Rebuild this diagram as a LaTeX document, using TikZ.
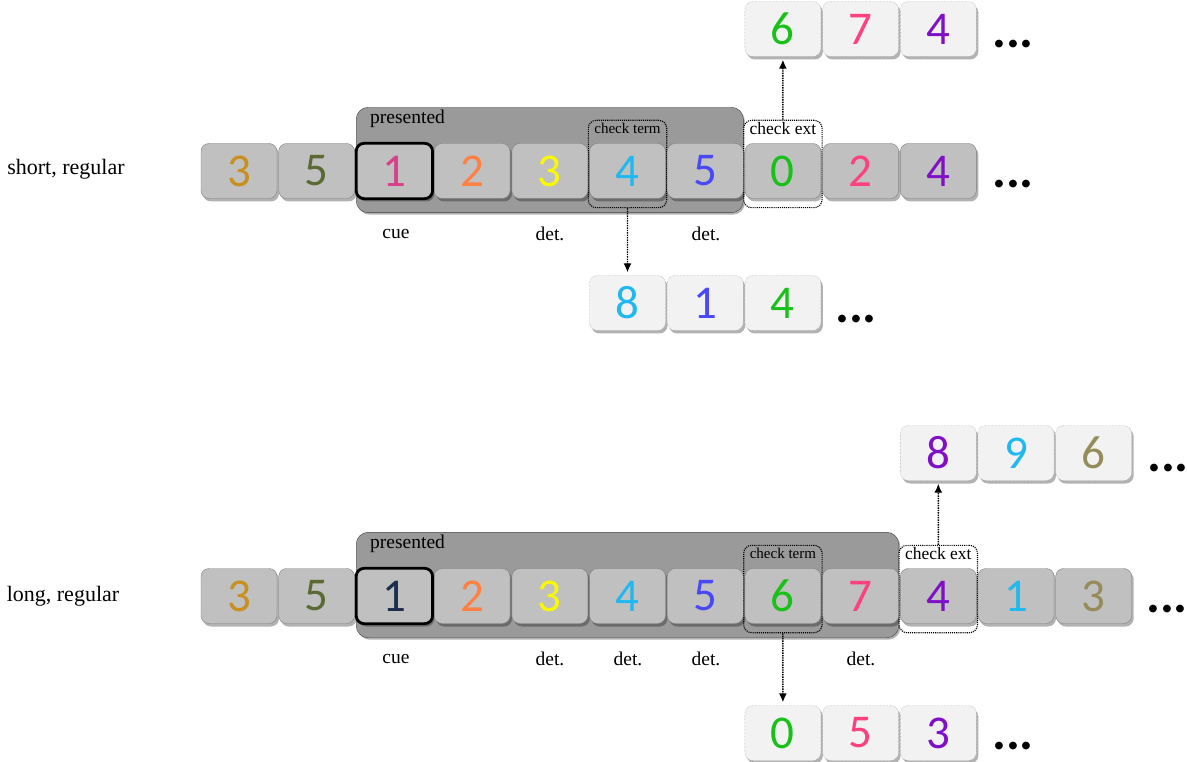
\documentclass[tikz,border=0pt]{standalone}
\usepackage{fontspec}
\setmainfont{Liberation Serif}
\newfontfamily\digitfont{Carlito}
\usetikzlibrary{shadows,fit,arrows.meta,backgrounds}
\definecolor{cGold}{HTML}{C89020}
\definecolor{cOlive}{HTML}{5A6A32}
\definecolor{cMag}{HTML}{D8408C}
\definecolor{cNavy}{HTML}{1C2E4E}
\definecolor{cOrange}{HTML}{FF8040}
\definecolor{cYellow}{HTML}{F8F800}
\definecolor{cCyan}{HTML}{20B8F0}
\definecolor{cBlue}{HTML}{4848F8}
\definecolor{cGreen}{HTML}{18C018}
\definecolor{cPink}{HTML}{FF4080}
\definecolor{cPurple}{HTML}{8010C8}
\definecolor{cKhaki}{HTML}{968C5A}
\definecolor{cellfill}{HTML}{C0C0C0}
\definecolor{extrafill}{HTML}{F2F2F2}
\definecolor{presfill}{HTML}{9A9A9A}
\tikzset{
  cell/.style={draw=black!50, fill=cellfill, rounded corners=8pt, minimum width=76pt,
    minimum height=55pt, inner sep=0pt, font=\digitfont\fontsize{47}{47}\selectfont,
    drop shadow={shadow xshift=2pt, shadow yshift=-3pt, opacity=0.3, fill=black}},
  extra/.style={cell, fill=extrafill, draw=black!45, densely dotted},
  cuebox/.style={draw=black, line width=2.8pt},
  present/.style={draw=black!75, fill=presfill, rounded corners=12pt, inner sep=0pt,
    drop shadow={shadow xshift=1.5pt, shadow yshift=-2pt, opacity=0.3, fill=black}},
  chk/.style={draw=black, densely dotted, line width=1.1pt, rounded corners=8pt, inner sep=0pt},
  chklabel/.style={font=\fontsize{15}{15}\selectfont, anchor=north, inner sep=0pt},
  extlabel/.style={font=\fontsize{17.5}{17.5}\selectfont, anchor=north, inner sep=0pt},
  plabel/.style={font=\fontsize{19.5}{19.5}\selectfont, anchor=north west, inner sep=0pt},
  lab/.style={font=\fontsize{19.5}{19.5}\selectfont, inner sep=0pt},
  rowlab/.style={font=\fontsize{22}{22}\selectfont, inner sep=0pt},
  dots/.style={font=\digitfont\bfseries\fontsize{52}{52}\selectfont, inner sep=0pt},
  link/.style={densely dotted, line width=1.4pt, -{Latex[length=9pt,width=8pt]}}
}
\begin{document}
\begin{tikzpicture}[x=1pt,y=-1pt]
\useasboundingbox (0,0) rectangle (1187,762);

% ---------------- short, regular ----------------
\node[rowlab] (sl) at (66,169) {short, regular};
\foreach \d/\c [count=\i] in {3/cGold,5/cOlive,1/cMag,2/cOrange,3/cYellow,4/cCyan,5/cBlue,0/cGreen,2/cPink,4/cPurple}
  \node[cell, text=\c] (s\i) at ({239+77.7*(\i-1)},171) {\d};
\node[cuebox, rounded corners=8pt, fit=(s3), inner sep=0pt] (scue) {};
\begin{scope}[on background layer]
  \node[present, fit={([yshift=36pt]s3.north west) ([yshift=-14pt]s7.south east)}] (sp) {};
  \node[chk, fit={([xshift=-1pt,yshift=23pt]s6.north west) ([xshift=1pt,yshift=-9pt]s6.south east)}] (sct) {};
  \node[chk, fill=white, fit={([xshift=-1pt,yshift=23pt]s8.north west) ([xshift=1pt,yshift=-9pt]s8.south east)}] (sce) {};
\end{scope}
\node[plabel] (spl) at ([xshift=14pt,yshift=-3pt]sp.north west) {presented};
\node[chklabel] (sctl) at ([yshift=-3pt]sct.north) {check term};
\node[extlabel] (scel) at ([yshift=-2pt]sce.north) {check ext};
\node[dots] (sd) at (1013,184) {...};
\node[lab] (sc1) at (396,234) {cue};
\node[lab] (sc2) at (550,234) {det.};
\node[lab] (sc3) at (706,234) {det.};

\foreach \d/\c [count=\i] in {6/cGreen,7/cPink,4/cPurple}
  \node[extra, text=\c] (st\i) at ({782.9+77.7*(\i-1)},29) {\d};
\node[dots] (std) at (1013,44) {...};
\foreach \d/\c [count=\i] in {8/cCyan,1/cBlue,4/cGreen}
  \node[extra, text=\c] (sb\i) at ({627.5+77.7*(\i-1)},303) {\d};
\node[dots] (sbd) at (856,319) {...};

\draw[link, shorten >=3pt] (sce.north) -- (st1.south);
\draw[link, shorten >=3pt] (sct.south) -- (sb1.north);

% ---------------- long, regular ----------------
\node[rowlab] (ll) at (63,596) {long, regular};
\foreach \d/\c [count=\i] in {3/cGold,5/cOlive,1/cNavy,2/cOrange,3/cYellow,4/cCyan,5/cBlue,6/cGreen,7/cPink,4/cPurple,1/cCyan,3/cKhaki}
  \node[cell, text=\c] (l\i) at ({239+77.7*(\i-1)},596) {\d};
\node[cuebox, rounded corners=8pt, fit=(l3), inner sep=0pt] (lcue) {};
\begin{scope}[on background layer]
  \node[present, fit={([yshift=36pt]l3.north west) ([yshift=-14pt]l9.south east)}] (lp) {};
  \node[chk, fit={([xshift=-1pt,yshift=23pt]l8.north west) ([xshift=1pt,yshift=-9pt]l8.south east)}] (lct) {};
  \node[chk, fill=white, fit={([xshift=-1pt,yshift=23pt]l10.north west) ([xshift=1pt,yshift=-9pt]l10.south east)}] (lce) {};
\end{scope}
\node[plabel] (lpl) at ([xshift=14pt,yshift=-3pt]lp.north west) {presented};
\node[chklabel] (lctl) at ([yshift=-3pt]lct.north) {check term};
\node[extlabel] (lcel) at ([yshift=-2pt]lce.north) {check ext};
\node[dots] (ld) at (1167,609) {...};
\node[lab] (lc1) at (396,659) {cue};
\node[lab] (lc2) at (550,659) {det.};
\node[lab] (lc3) at (628,659) {det.};
\node[lab] (lc4) at (706,659) {det.};
\node[lab] (lc5) at (861,659) {det.};

\foreach \d/\c [count=\i] in {8/cPurple,9/cCyan,6/cKhaki}
  \node[extra, text=\c] (lt\i) at ({938.3+77.7*(\i-1)},453) {\d};
\node[dots] (ltd) at (1168,468) {...};
\foreach \d/\c [count=\i] in {0/cGreen,5/cPink,3/cPurple}
  \node[extra, text=\c] (lb\i) at ({782.9+77.7*(\i-1)},733) {\d};
\node[dots] (lbd) at (1013,746) {...};

\draw[link, shorten >=3pt] (lce.north) -- (lt1.south);
\draw[link, shorten >=3pt] (lct.south) -- (lb1.north);
\end{tikzpicture}
\end{document}
